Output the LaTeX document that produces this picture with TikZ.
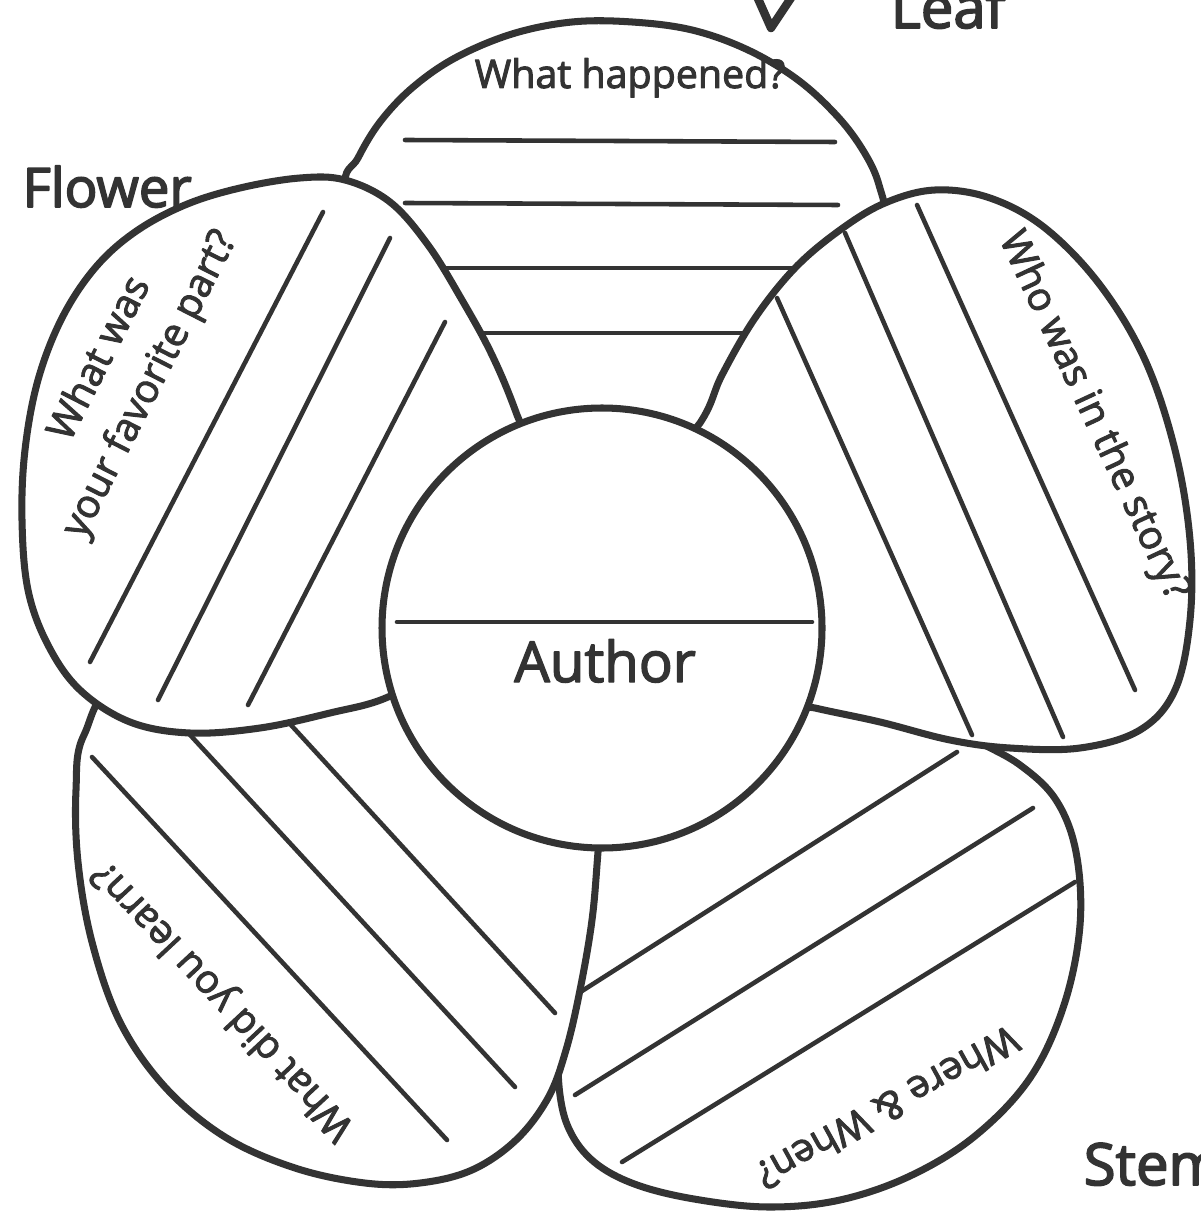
\documentclass[tikz,border=0pt]{standalone}
\usepackage{fontspec}
\setmainfont{Open Sans}
\newfontfamily\inkfont[FakeBold=2.5]{Open Sans}
\newfontfamily\tagfont[FakeBold=3]{Open Sans}
\definecolor{ink}{RGB}{51,51,51}
\begin{document}
\begin{tikzpicture}[x=0.01cm,y=-0.01cm,color=ink,line join=round,line cap=round,
	petal/.style={draw=ink,fill=white,line width=2pt},
	rule/.style={draw=ink,line width=1.3pt},
	ask/.style={font=\inkfont\fontsize{11.2}{16}\selectfont,text=ink,align=center,inner sep=0pt},
	tag/.style={font=\tagfont\fontsize{15.5}{18}\selectfont,text=ink,inner sep=0pt,anchor=base west}]
	\useasboundingbox (0,0) rectangle (1201,1216);
	% top petal
	\filldraw[petal] plot[smooth cycle,tension=0.6] coordinates {(345,190) (358,158) (380,122) (412,88) (455,58) (512,34) (572,22) (632,22) (692,30) (748,50) (798,80) (838,117) (864,152) (879,185) (884,225) (860,300) (780,420) (604,540) (440,420) (370,300)};
	\draw[rule] (405,140) -- (835,142);
	\draw[rule] (405,203) -- (838,205);
	\draw[rule] (400,268) -- (820,268);
	\draw[rule] (450,333) -- (770,333);
	\node[ask,anchor=base] (happened) at (630,88) {What happened?};
	% bottom right petal
	\filldraw[petal] plot[smooth cycle,tension=0.6] coordinates {(558,1030) (560,1095) (572,1135) (598,1165) (640,1186) (700,1200) (770,1207) (840,1200) (910,1176) (975,1136) (1030,1078) (1064,1005) (1080,925) (1076,852) (1056,800) (1020,765) (975,740) (930,715) (800,680) (640,760) (560,880)};
	\draw[rule] (560,1005) -- (957,752);
	\draw[rule] (575,1095) -- (1033,808);
	\draw[rule] (622,1162) -- (1075,882);
	\node[ask,rotate=209] (wherewhen) at (888,1108) {Where \& When?};
	% bottom left petal
	\filldraw[petal] plot[smooth cycle,tension=0.6] coordinates {(130,680) (300,690) (420,660) (605,760) (598,852) (592,920) (580,990) (566,1050) (548,1098) (516,1140) (472,1170) (420,1183) (365,1183) (295,1168) (225,1137) (165,1087) (120,1022) (92,942) (78,862) (76,790) (84,735)};
	\draw[rule] (92,757) -- (447,1140);
	\draw[rule] (180,724) -- (515,1087);
	\draw[rule] (280,713) -- (555,1013);
	\node[ask,rotate=133] (learn) at (224,1000) {What did you learn?};
	% left petal
	\filldraw[petal] plot[smooth cycle,tension=0.6] coordinates {(185,205) (240,188) (300,178) (345,180) (390,202) (428,245) (462,300) (492,355) (517,415) (545,500) (450,660) (388,697) (330,713) (260,728) (190,733) (130,722) (80,690) (48,645) (28,590) (22,520) (25,450) (38,380) (62,318) (95,268) (135,232)};
	\draw[rule] (323,212) -- (90,662);
	\draw[rule] (390,238) -- (158,700);
	\draw[rule] (445,322) -- (248,705);
	\node[ask,rotate=63] (favorite) at (126,372) {What was\\your favorite part?};
	% right petal
	\filldraw[petal] plot[smooth cycle,tension=0.6] coordinates {(700,423) (722,375) (755,318) (795,268) (840,230) (885,203) (935,190) (990,198) (1045,228) (1100,285) (1145,360) (1175,450) (1190,540) (1190,620) (1175,690) (1140,730) (1080,748) (1010,748) (950,740) (880,722) (815,708) (740,690) (640,500)};
	\draw[rule] (777,298) -- (972,735);
	\draw[rule] (845,233) -- (1063,737);
	\draw[rule] (917,205) -- (1135,690);
	\node[ask,rotate=-65] (who) at (1093,416) {Who was in the story?};
	% centre
	\filldraw[petal] (602,628) circle (220);
	\draw[rule] (397,622) -- (812,622);
	\node[ask,font=\inkfont\fontsize{16}{19}\selectfont,anchor=base] (author) at (605,682) {Author};
	% labels
	\node[tag] (flower) at (22,207) {Flower};
	\node[tag,font=\tagfont\fontsize{16.5}{19}\selectfont] (leaf) at (890,28) {Leaf};
	\node[tag,font=\tagfont\fontsize{16.5}{19}\selectfont] (stem) at (1083,1185) {Stem};
	\draw[line width=2.4pt] (755,-8) -- (771,28) -- (795,-8);
\end{tikzpicture}
\end{document}
